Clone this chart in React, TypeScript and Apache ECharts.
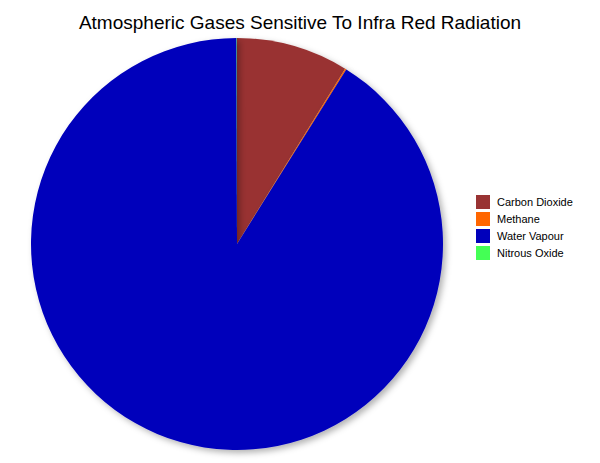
import React, { useEffect, useRef } from "react";
import * as echarts from "echarts";

const categories = ["Carbon Dioxide", "Methane", "Water Vapour", "Nitrous Oxide"];
const values = [8.8, 0.1, 91.07, 0.03];
const colors = ["#993333", "#FF6600", "#0000BB", "#44FF55"];
const titleText = "Atmospheric Gases Sensitive To Infra Red Radiation";

export default function App() {
  const ref = useRef<HTMLDivElement>(null);
  useEffect(() => {
    if (!ref.current) return;
    const chart = echarts.init(ref.current, null, { renderer: "svg" });
    chart.setOption({
      animation: false,
      backgroundColor: "#ffffff",
      title: {
        text: titleText,
        left: "center",
        top: 8,
        textStyle: {
          fontFamily: "Liberation Sans, Arial, sans-serif",
          fontSize: 19,
          fontWeight: "normal",
          color: "#000000",
        },
      },
      legend: {
        orient: "vertical",
        left: 471,
        top: 190,
        icon: "rect",
        itemWidth: 14,
        itemHeight: 14,
        itemGap: 3,
        data: categories,
        textStyle: {
          fontFamily: "Liberation Sans, Arial, sans-serif",
          fontSize: 11,
          color: "#000000",
          padding: [0, 0, 0, 2],
        },
      },
      series: [
        {
          type: "pie",
          center: [237, 244],
          radius: 206,
          startAngle: 90,
          clockwise: true,
          label: { show: false },
          labelLine: { show: false },
          emphasis: { disabled: true },
          itemStyle: {
            borderWidth: 0,
            shadowColor: "rgba(0,0,0,0.3)",
            shadowBlur: 6,
            shadowOffsetX: 3,
            shadowOffsetY: 3,
          },
          data: categories.map((name, i) => ({
            name,
            value: values[i],
            itemStyle: { color: colors[i] },
          })),
        },
      ],
    });
    return () => chart.dispose();
  }, []);
  return (
    <div
      ref={ref}
      style={{ position: "fixed", left: 0, top: 0, width: 600, height: 463 }}
    />
  );
}
